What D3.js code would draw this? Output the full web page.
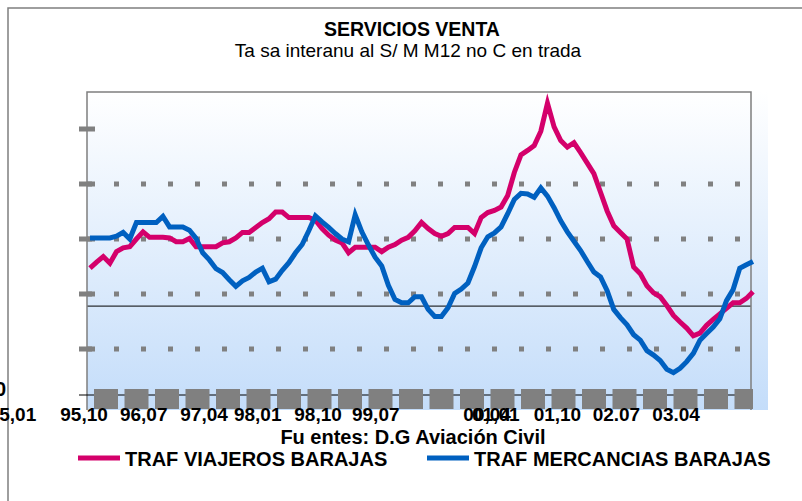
<!DOCTYPE html>
<html>
<head>
<meta charset="utf-8">
<script src="https://cdn.jsdelivr.net/npm/d3@7/dist/d3.min.js"></script>
<style>
  body { margin: 0; background: #fff; }
  svg text { font-family: "Liberation Sans", Arial, sans-serif; }
</style>
</head>
<body>
<div id="chart"></div>
<script>
// monthly year-on-year rates
const viajeros = [24.7,25.8,26.8,25.6,27.7,28.4,28.6,30.0,31.3,30.3,
    30.3,30.3,30.2,29.5,29.5,30.1,28.6,28.6,28.6,28.6,
    29.3,29.5,30.2,31.2,31.2,32.1,33.0,33.7,34.9,34.9,
    33.9,33.9,33.9,33.9,33.4,31.9,30.7,29.8,29.3,27.5,
    28.5,28.5,28.5,28.5,27.7,28.5,29.0,29.8,30.3,31.5,
    33.0,31.9,31.0,30.5,31.0,32.1,32.1,32.1,31.0,33.9,
    34.8,35.2,35.8,37.9,42.1,45.3,46.1,47.0,49.6,54.7,
    50.4,47.9,46.7,47.5,45.7,43.8,41.9,38.5,35.1,32.4,
    31.2,30.0,24.9,23.7,21.5,20.2,19.5,17.9,16.1,14.9,
    13.8,12.4,12.9,14.3,15.4,16.4,17.4,18.4,18.4,19.2,
    20.4]
const mercancias = [30.2,30.2,30.2,30.2,30.5,31.2,30.0,33.0,33.0,33.0,
    33.0,34.1,32.2,32.2,32.2,31.6,30.1,27.5,26.2,24.6,
    23.9,22.6,21.4,22.4,23.0,24.0,24.7,22.2,22.7,24.3,
    25.7,27.5,29.0,31.5,34.2,33.1,32.1,31.0,30.0,29.5,
    34.4,31.3,28.9,26.7,25.1,21.6,19.0,18.4,18.4,19.5,
    19.5,17.2,15.9,15.9,17.5,20.1,20.9,22.0,25.0,28.4,
    30.4,31.1,32.2,34.6,37.2,38.3,38.2,37.6,39.3,37.8,
    35.7,33.3,31.3,29.6,27.9,25.9,24.0,23.1,20.6,17.2,
    15.7,14.4,12.6,11.6,9.7,8.9,7.9,6.3,5.7,6.5,
    7.7,9.2,11.6,12.8,14.0,15.5,18.8,20.8,24.7,25.3,
    25.9]

// category labels and where they sit along the month axis
const tickLabels = ['95,01','95,10','96,07','97,04','98,01','98,10','99,07','00,04','01,01','01,10','02.07','03.04']
const tickAt = [-11.7,-0.9,8.1,17.2,25.3,34.4,43.1,59.9,61.2,70.5,79.4,88.4]

const yTicks = [10, 20, 30, 40, 50]
const yGrid = [10, 20, 30, 40]
const refValue = 17.8

const seriesNames = ['TRAF  VIAJEROS BARAJAS', 'TRAF  MERCANCIAS  BARAJAS']
const seriesColors = ['#d4006b', '#0060c0']

const width = 802, height = 501
const plot = {left: 87, right: 751, top: 92, bottom: 404, bgRight: 768, bgBottom: 410}

const svg = d3.select('#chart').append('svg')
    .attr('width', width)
    .attr('height', height)

// outer frame (top + left only)
svg.append('path')
    .attr('d', `M8,${height} L8,8 L${width},8`)
    .attr('fill', 'none')
    .attr('stroke', '#7f7f7f')
    .attr('stroke-width', 1.5)

const x = d3.scaleLinear().domain([0, viajeros.length - 1]).range([90, 753])
const y = d3.scaleLinear().domain([0, 50]).range([plot.bottom, 129])

// background gradient
const grad = svg.append('defs').append('linearGradient')
    .attr('id', 'bg')
    .attr('x1', 0).attr('y1', 0).attr('x2', 0).attr('y2', 1)
grad.append('stop').attr('offset', '0%').attr('stop-color', '#ffffff')
grad.append('stop').attr('offset', '100%').attr('stop-color', '#c4ddfa')

svg.append('rect')
    .attr('x', plot.left)
    .attr('y', plot.top)
    .attr('width', plot.bgRight - plot.left)
    .attr('height', plot.bgBottom - plot.top)
    .attr('fill', 'url(#bg)')

// dotted gridlines
svg.selectAll('.grid')
    .data(yGrid)
    .join('line')
    .attr('class', 'grid')
    .attr('x1', plot.left).attr('x2', plot.right)
    .attr('y1', d => y(d)).attr('y2', d => y(d))
    .attr('stroke', '#808080')
    .attr('stroke-width', 5)
    .attr('stroke-dasharray', '5,22')

// reference line
svg.append('line')
    .attr('x1', plot.left).attr('x2', plot.right)
    .attr('y1', y(refValue)).attr('y2', y(refValue))
    .attr('stroke', '#000')
    .attr('stroke-width', 1)

// frame of the plot
svg.append('path')
    .attr('d', `M${plot.left},${plot.bgBottom} L${plot.left},${plot.top} L${plot.right},${plot.top} L${plot.right},${plot.bgBottom}`)
    .attr('fill', 'none')
    .attr('stroke', '#7f7f7f')
    .attr('stroke-width', 1.5)

// y ticks
svg.selectAll('.ytick')
    .data(yTicks)
    .join('rect')
    .attr('class', 'ytick')
    .attr('x', 79)
    .attr('y', d => y(d) - 2.5)
    .attr('width', 16)
    .attr('height', 5)
    .attr('fill', '#808080')

// bottom axis: thin black line under a row of grey blocks
const axisY = 395
svg.append('line')
    .attr('x1', 79).attr('x2', plot.right)
    .attr('y1', axisY).attr('y2', axisY)
    .attr('stroke', '#000')
svg.append('line')
    .attr('x1', 94).attr('x2', 753)
    .attr('y1', 399).attr('y2', 399)
    .attr('stroke', '#808080')
    .attr('stroke-width', 20)
    .attr('stroke-dasharray', '24,6.5')

svg.append('text')
    .attr('x', 6)
    .attr('y', 396)
    .attr('text-anchor', 'end')
    .attr('font-size', 20)
    .attr('font-weight', 'bold')
    .text('0')

// x labels
svg.selectAll('.xlab')
    .data(tickLabels)
    .join('text')
    .attr('class', 'xlab')
    .attr('x', (d, i) => x(tickAt[i]))
    .attr('y', 421)
    .attr('text-anchor', 'middle')
    .attr('font-size', 19)
    .attr('font-weight', 'bold')
    .text(d => d)

// series
const line = d3.line()
    .x((d, i) => x(i))
    .y(d => y(d))

;[viajeros, mercancias].forEach((s, k) => {
    svg.append('path')
        .datum(s)
        .attr('d', line)
        .attr('fill', 'none')
        .attr('stroke', seriesColors[k])
        .attr('stroke-width', 5)
        .attr('stroke-linejoin', 'miter')
})

// titles
svg.append('text')
    .attr('x', 412).attr('y', 36)
    .attr('text-anchor', 'middle')
    .attr('font-size', 19.5)
    .attr('font-weight', 'bold')
    .text('SERVICIOS VENTA')
svg.append('text')
    .attr('x', 408).attr('y', 57)
    .attr('text-anchor', 'middle')
    .attr('font-size', 19)
    .text('Ta sa  interanu al S/ M M12 no C en trada')

svg.append('text')
    .attr('x', 413).attr('y', 444)
    .attr('text-anchor', 'middle')
    .attr('font-size', 20)
    .attr('font-weight', 'bold')
    .text('Fu entes: D.G Aviación Civil')

// legend
const legX = [78, 427]
seriesNames.forEach((name, k) => {
    const g = svg.append('g').attr('transform', `translate(${legX[k]}, 458)`)
    g.append('line')
        .attr('x1', 0).attr('x2', 42)
        .attr('stroke', seriesColors[k])
        .attr('stroke-width', 5)
    g.append('text')
        .attr('x', 47).attr('y', 8)
        .attr('font-size', 20)
        .attr('font-weight', 'bold')
        .text(name)
})
</script>
</body>
</html>
